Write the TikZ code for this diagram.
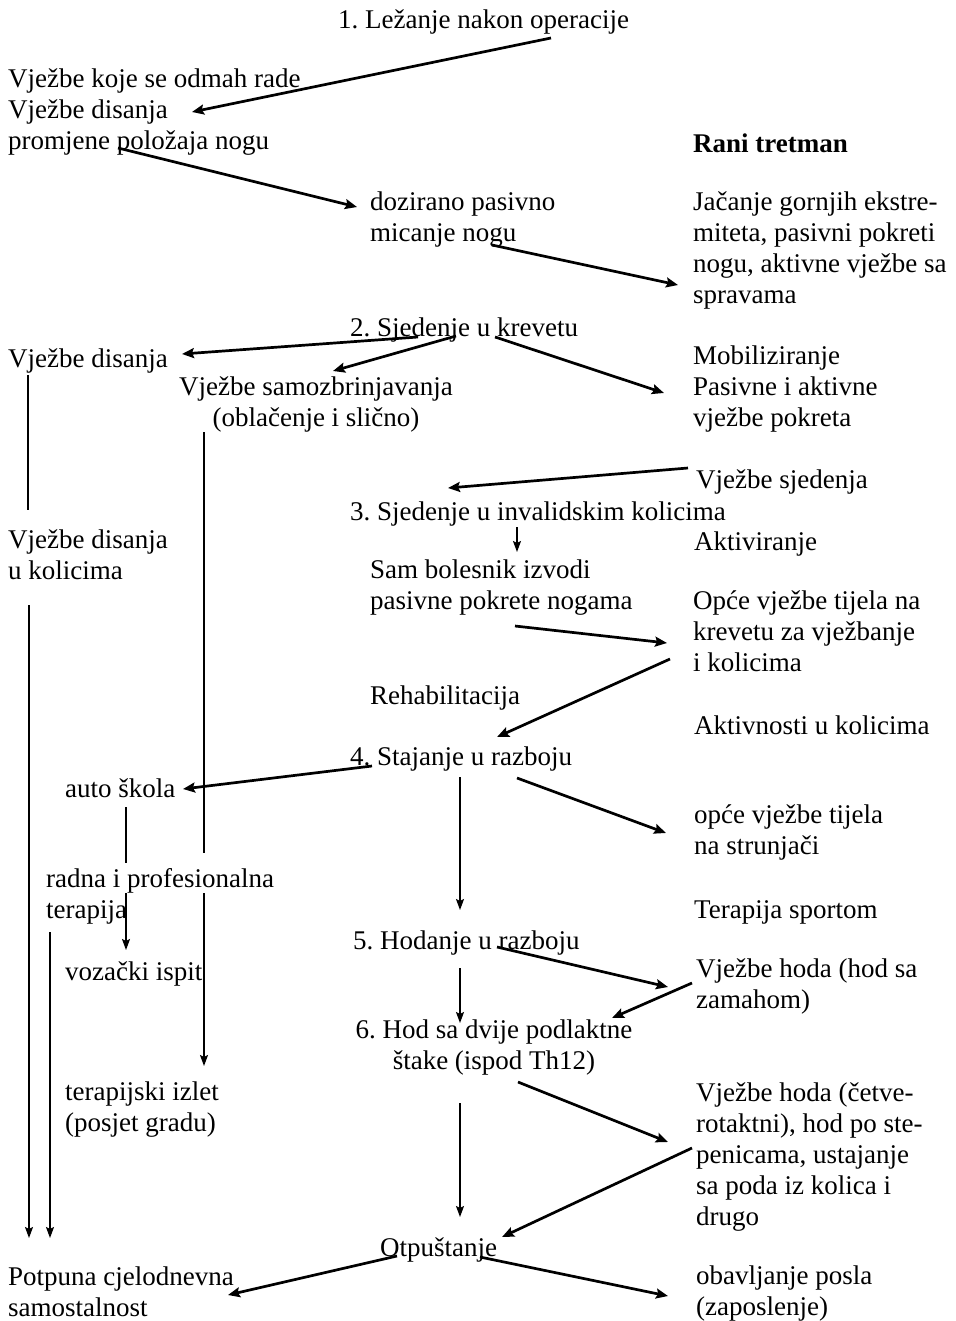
\documentclass[tikz,border=0pt]{standalone}
\usepackage{fontspec}
\setmainfont{Liberation Serif}
\usetikzlibrary{arrows.meta}
\frenchspacing
\begin{document}
\begin{tikzpicture}[x=1pt,y=-1pt,
  txt/.style={anchor=north west, inner sep=0pt, yshift=-3pt, align=left, font=\fontsize{27}{31}\selectfont, execute at begin node=\strut},
  ctxt/.style={txt, anchor=north, align=center},
  arr/.style={line width=2.7pt, -{Stealth[length=12pt,width=10pt,inset=2pt]}},
  vln/.style={line width=1.4pt},
  varr/.style={line width=1.4pt, -{Stealth[length=11pt,width=8pt,inset=2pt]}}]
\fill[white] (0,0) rectangle (955,1321);
\useasboundingbox (0,0) rectangle (955,1321);

% texts
\node[txt] (s1) at (338,4) {1. Ležanje nakon operacije};
\node[txt] (odmah) at (8,66) {Vježbe koje se odmah rade\\Vježbe disanja\\promjene položaja nogu};
\node[txt, font=\fontsize{27}{31}\selectfont\bfseries] (rani) at (693,128) {Rani tretman};
\node[txt] (doz) at (370,189) {dozirano pasivno\\micanje nogu};
\node[txt] (jac) at (693,189) {Jačanje gornjih ekstre-\\miteta, pasivni pokreti\\nogu, aktivne vježbe sa\\spravama};
\node[txt] (s2) at (350,312) {2. Sjedenje u krevetu};
\node[txt] (disl) at (8,343) {Vježbe disanja};
\node[ctxt] (samo) at (316,374) {Vježbe samozbrinjavanja\\(oblačenje i slično)};
\node[txt] (mob) at (693,343) {Mobiliziranje\\Pasivne i aktivne\\vježbe pokreta};
\node[txt] (sjed) at (696,464) {Vježbe sjedenja};
\node[txt] (s3) at (350,496) {3. Sjedenje u invalidskim kolicima};
\node[txt] (akt) at (694,526) {Aktiviranje};
\node[txt] (disk) at (8,527) {Vježbe disanja\\u kolicima};
\node[txt] (sam) at (370,557) {Sam bolesnik izvodi\\pasivne pokrete nogama};
\node[txt] (opce) at (693,588) {Opće vježbe tijela na\\krevetu za vježbanje\\i kolicima};
\node[txt] (rehab) at (370,680) {Rehabilitacija};
\node[txt] (aktk) at (694,710) {Aktivnosti u kolicima};
\node[txt] (s4) at (350,741) {4. Stajanje u razboju};
\node[txt] (auto) at (65,773) {auto škola};
\node[txt] (opce2) at (694,802) {opće vježbe tijela\\na strunjači};
\node[txt] (radna) at (46,865) {radna i profesionalna\\terapija};
\node[txt] (sport) at (694,894) {Terapija sportom};
\node[txt] (s5) at (353,925) {5. Hodanje u razboju};
\node[txt] (voz) at (65,956) {vozački ispit};
\node[txt] (hod1) at (696,956) {Vježbe hoda (hod sa\\zamahom)};
\node[ctxt] (s6) at (494,1017) {6. Hod sa dvije podlaktne\\štake (ispod Th12)};
\node[txt] (izlet) at (65,1079) {terapijski izlet\\(posjet gradu)};
\node[txt] (hod2) at (696,1079) {Vježbe hoda (četve-\\rotaktni), hod po ste-\\penicama, ustajanje\\sa poda iz kolica i\\drugo};
\node[txt] (otp) at (380,1232) {Otpuštanje};
\node[txt] (pot) at (8,1264) {Potpuna cjelodnevna\\samostalnost};
\node[txt] (posao) at (696,1263) {obavljanje posla\\(zaposlenje)};

% arrow end points
\coordinate (a1s) at (551,38);  \coordinate (a1e) at (192,112);
\coordinate (a2s) at (118,148); \coordinate (a2e) at (357,207);
\coordinate (a3s) at (492,245); \coordinate (a3e) at (678,285);
\coordinate (a4s) at (418,337); \coordinate (a4e) at (182,354);
\coordinate (a5s) at (456,336); \coordinate (a5e) at (333,371);
\coordinate (a6s) at (495,337); \coordinate (a6e) at (664,393);
\coordinate (a7s) at (688,468); \coordinate (a7e) at (448,488);
\coordinate (a8s) at (517,527); \coordinate (a8e) at (517,552);
\coordinate (a9s) at (515,626); \coordinate (a9e) at (667,643);
\coordinate (a10s) at (670,659); \coordinate (a10e) at (497,737);
\coordinate (a11s) at (372,766); \coordinate (a11e) at (183,789);
\coordinate (a12s) at (517,778); \coordinate (a12e) at (666,833);
\coordinate (a13s) at (460,777); \coordinate (a13e) at (460,910);
\coordinate (a14s) at (497,947); \coordinate (a14e) at (668,987);
\coordinate (a15s) at (692,983); \coordinate (a15e) at (612,1018);
\coordinate (a16s) at (460,968); \coordinate (a16e) at (460,1023);
\coordinate (a17s) at (518,1082); \coordinate (a17e) at (668,1142);
\coordinate (a18s) at (460,1103); \coordinate (a18e) at (460,1217);
\coordinate (a19s) at (692,1148); \coordinate (a19e) at (502,1237);
\coordinate (a20s) at (397,1256); \coordinate (a20e) at (228,1295);
\coordinate (a21s) at (480,1257); \coordinate (a21e) at (668,1296);
% vertical lines
\coordinate (l1s) at (28,375);  \coordinate (l1e) at (28,510);
\coordinate (l2s) at (29,605);  \coordinate (l2e) at (29,1238);
\coordinate (l3s) at (50,932);  \coordinate (l3e) at (50,1238);
\coordinate (l4s) at (204,432); \coordinate (l4e) at (204,853);
\coordinate (l5s) at (204,893); \coordinate (l5e) at (204,1066);
\coordinate (l6s) at (126,807); \coordinate (l6e) at (126,863);
\coordinate (l7s) at (126,893); \coordinate (l7e) at (126,950);

\foreach \i in {1,2,3,4,5,6,7,9,10,11,12,14,15,17,19,20,21}
  \draw[arr] (a\i s) -- (a\i e);
\foreach \i in {8,13,16,18}
  \draw[varr] (a\i s) -- (a\i e);
\draw[vln] (l1s) -- (l1e);
\draw[varr] (l2s) -- (l2e);
\draw[varr] (l3s) -- (l3e);
\draw[vln] (l4s) -- (l4e);
\draw[varr] (l5s) -- (l5e);
\draw[vln] (l6s) -- (l6e);
\draw[varr] (l7s) -- (l7e);
\end{tikzpicture}
\end{document}
